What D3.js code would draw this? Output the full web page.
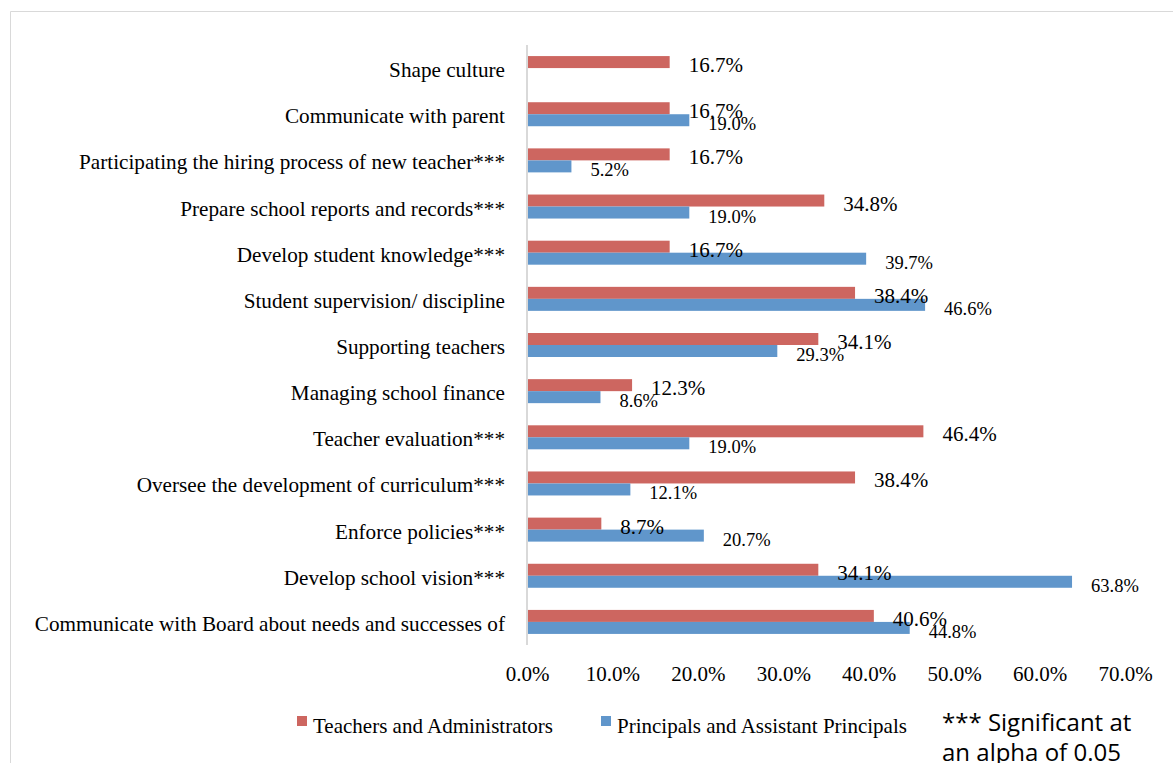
<!DOCTYPE html>
<html><head><meta charset="utf-8">
<script src="https://cdn.jsdelivr.net/npm/d3@7"></script>
<style>
html,body{margin:0;padding:0;background:#fff;}
svg{display:block;}
</style></head>
<body>
<svg id="chart" width="1173" height="763"></svg>
<script>
const categories = [
  "Shape culture",
  "Communicate with parent",
  "Participating the hiring process of new teacher***",
  "Prepare school reports and records***",
  "Develop student knowledge***",
  "Student supervision/ discipline",
  "Supporting teachers",
  "Managing school finance",
  "Teacher evaluation***",
  "Oversee the development of curriculum***",
  "Enforce policies***",
  "Develop school vision***",
  "Communicate with Board about needs and successes of"
];
const teachersAdmin = [16.7, 16.7, 16.7, 34.8, 16.7, 38.4, 34.1, 12.3, 46.4, 38.4, 8.7, 34.1, 40.6];
const principals =   [null, 19.0, 5.2, 19.0, 39.7, 46.6, 29.3, 8.6, 19.0, 12.1, 20.7, 63.8, 44.8];
const xTicks = [0, 10, 20, 30, 40, 50, 60, 70];
const seriesNames = ["Teachers and Administrators", "Principals and Assistant Principals"];
const note = ["*** Significant at", "an alpha of 0.05"];

const colors = ["#CD6660", "#6096CB"];
const serif = "'Liberation Serif','Times New Roman',serif";

const svg = d3.select("#chart");

// outer frame
svg.append("path").attr("d","M10.5,763 V11.5 H1173").attr("fill","none").attr("stroke","#d9d9d9").attr("stroke-width",1);

const x = d3.scaleLinear().domain([0,70]).range([527,1125]);
const y = d3.scaleBand().domain(categories).range([45,645]);
const barH = 12;

// category labels
svg.append("g").selectAll("text").data(categories).join("text")
  .attr("x",505).attr("y",d=>y(d)+y.bandwidth()/2+9)
  .attr("text-anchor","end").attr("font-family",serif).attr("font-size",21.2).attr("fill","#000")
  .text(d=>d);

// bars
const series = [teachersAdmin, principals];
const seriesData = series.map(vals=>categories.map((c,i)=>({c, v: vals[i]})).filter(d=>d.v!=null));
seriesData.forEach((data,si)=>{
  svg.append("g").selectAll("rect").data(data).join("rect")
    .attr("x",x(0)).attr("y",d=>y(d.c)+y.bandwidth()/2 - (si===0?barH:0))
    .attr("width",d=>x(d.v)-x(0)).attr("height",barH)
    .attr("fill",colors[si]);
});
// value labels (on top of all bars)
seriesData.forEach((data,si)=>{
  svg.append("g").selectAll("text").data(data).join("text")
    .attr("x",d=>x(d.v)+19)
    .attr("y",d=>y(d.c)+y.bandwidth()/2 + (si===0?4:16))
    .attr("font-family",serif).attr("font-size",si===0?21:18.5).attr("fill","#000")
    .text(d=>d.v.toFixed(1)+"%");
});

// axis line
svg.append("line").attr("x1",x(0)).attr("x2",x(0)).attr("y1",45).attr("y2",645)
  .attr("stroke","#d9d9d9").attr("stroke-width",2);

// x tick labels
const xAxis = d3.axisBottom(x).tickValues(xTicks).tickSize(0).tickPadding(0).tickFormat(d=>d.toFixed(1)+"%");
const ax = svg.append("g").attr("transform","translate(0,664)").call(xAxis);
ax.select(".domain").remove();
ax.selectAll("text").attr("font-family",serif).attr("font-size",21).attr("fill","#000").attr("dy","0.8em");

// legend
const leg = [{x:297,name:seriesNames[0],c:colors[0]},{x:601,name:seriesNames[1],c:colors[1]}];
const lg = svg.append("g");
lg.selectAll("rect").data(leg).join("rect").attr("x",d=>d.x).attr("y",716).attr("width",10).attr("height",10).attr("fill",d=>d.c);
lg.selectAll("text").data(leg).join("text").attr("x",d=>d.x+16).attr("y",733)
  .attr("font-family",serif).attr("font-size",21).attr("fill","#000").text(d=>d.name);

// note
svg.append("g").selectAll("text").data(note).join("text")
  .attr("x",942).attr("y",(d,i)=>731+i*30)
  .attr("font-family","'Open Sans','Noto Sans',sans-serif").attr("font-size",24).attr("fill","#000")
  .text(d=>d);
</script>
</body></html>
